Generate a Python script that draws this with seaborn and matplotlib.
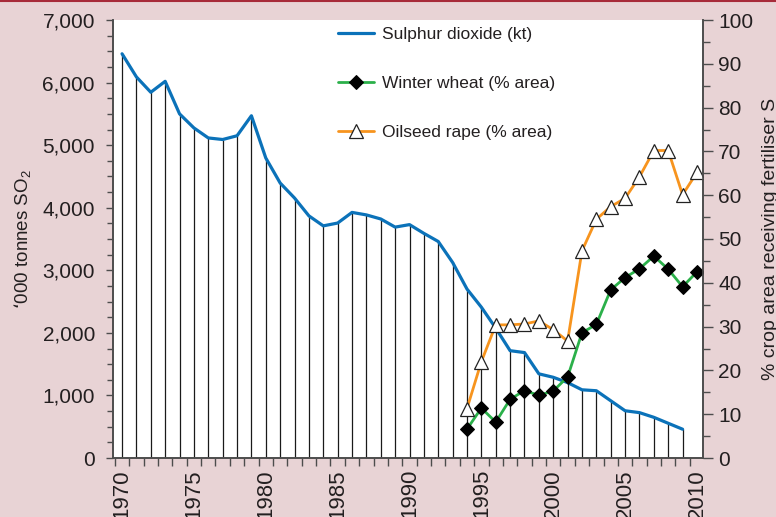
import numpy as np
import pandas as pd
import matplotlib
matplotlib.use("Agg")
import matplotlib.pyplot as plt
import seaborn as sns
from matplotlib.lines import Line2D
from matplotlib.ticker import MultipleLocator, FixedLocator, FuncFormatter

# sulphur dioxide emissions ('000 tonnes), 1970-2009
so2_years = list(range(1970, 2010))
so2 = [6460, 6090, 5845, 6020, 5500, 5275, 5115, 5090, 5150, 5470,
       4795, 4395, 4155, 3870, 3710, 3755, 3925, 3885, 3820, 3690,
       3730, 3590, 3460, 3125, 2700, 2410, 2075, 1715, 1685, 1345,
       1290, 1205, 1090, 1075, 915, 755, 725, 650, 555, 460]

# % crop area receiving S fertiliser, 1994-2010
crop_years = list(range(1994, 2011))
wheat = [6.6, 11.4, 8.2, 13.4, 15.4, 14.3, 15.3, 18.5, 28.6, 30.5,
         38.4, 41.2, 43.2, 46.1, 43.1, 39.1, 42.5]
rape = [11.3, 22.0, 30.4, 30.4, 30.6, 31.3, 29.3, 26.7, 47.3, 54.5,
        57.4, 59.3, 64.2, 70.2, 70.2, 60.1, 65.2]

year_labels = list(range(1970, 2011, 5))

df_so2 = pd.DataFrame({"year": so2_years, "so2": so2})
df_crop = pd.DataFrame({"year": crop_years, "wheat": wheat, "rape": rape})

sns.set_style("ticks")
plt.rcParams["font.family"] = ["Liberation Sans", "DejaVu Sans"]
txt = "#231f20"
spine_c = "#4d4d4d"

fig = plt.figure(figsize=(7.76, 5.17), dpi=100, facecolor="#e8d3d5")
ax = fig.add_axes([113 / 776, 59 / 517, 590 / 776, 438 / 517])
ax.set_facecolor("white")
fig.add_artist(Line2D([0, 1], [0.998, 0.998], transform=fig.transFigure,
                      color="#a72b3a", lw=1.5))

# hatch lines under the SO2 curve
ax.vlines(df_so2["year"], 0, df_so2["so2"], color="#1a1a1a", lw=0.9, zorder=1)
sns.lineplot(data=df_so2, x="year", y="so2", ax=ax, color="#0b72b9", lw=2.3,
             zorder=3, label="Sulphur dioxide (kt)", legend=False)

ax2 = ax.twinx()
sns.lineplot(data=df_crop, x="year", y="wheat", ax=ax2, color="#2bb04a", lw=2,
             marker="D", markersize=7, markerfacecolor="black",
             markeredgecolor="black", label="Winter wheat (% area)", legend=False)
sns.lineplot(data=df_crop, x="year", y="rape", ax=ax2, color="#f7941e", lw=2,
             marker="^", markersize=10, markerfacecolor="white",
             markeredgecolor="#222222", markeredgewidth=0.9,
             label="Oilseed rape (% area)", legend=False)

for a in (ax, ax2):
    a.set_xlim(1969.37, 2010.42)
    for s in a.spines.values():
        s.set_color(spine_c)
        s.set_linewidth(1.2)
    a.spines["top"].set_visible(False)

ax.set_ylim(0, 7000)
ax2.set_ylim(0, 100)

ax.yaxis.set_major_locator(MultipleLocator(1000))
ax.yaxis.set_minor_locator(MultipleLocator(250))
ax.yaxis.set_major_formatter(FuncFormatter(lambda v, p: f"{int(v):,}"))
ax.tick_params(axis="y", which="major", length=5, width=1, color=spine_c,
               labelsize=15, labelcolor=txt, pad=8)
ax.tick_params(axis="y", which="minor", length=4, width=1, color=spine_c)

ax.xaxis.set_major_locator(FixedLocator(year_labels))
ax.xaxis.set_minor_locator(FixedLocator(np.arange(1969.5, 2010, 1)))
ax.tick_params(axis="x", which="major", length=0, labelsize=16,
               labelcolor=txt, labelrotation=90, pad=8)
ax.tick_params(axis="x", which="minor", length=6, width=1, color=spine_c)
for lab in ax.get_xticklabels():
    lab.set_va("top")

ax2.yaxis.set_major_locator(MultipleLocator(10))
ax2.yaxis.set_minor_locator(MultipleLocator(5))
ax2.tick_params(axis="y", which="major", length=7, width=1, color=spine_c,
                labelsize=15, labelcolor=txt, pad=4)
ax2.tick_params(axis="y", which="minor", length=5, width=1, color=spine_c)

ax.set_xlabel("")
ax.set_ylabel("\u2018000 tonnes SO$_\\mathregular{2}$", fontsize=13.5,
              color=txt, labelpad=6)
ax2.set_ylabel("% crop area receiving fertiliser S", fontsize=14,
               color=txt, labelpad=6)

h1, l1 = ax.get_legend_handles_labels()
h2, l2 = ax2.get_legend_handles_labels()
ax2.legend(h1 + h2, l1 + l2, loc="upper left", bbox_to_anchor=(0.375, 0.993),
           frameon=False, fontsize=12.5, labelspacing=1.95, handlelength=2.1,
           handletextpad=0.45, borderpad=0.2, borderaxespad=0,
           labelcolor=txt)

fig.savefig("out.png", dpi=100, facecolor=fig.get_facecolor())
